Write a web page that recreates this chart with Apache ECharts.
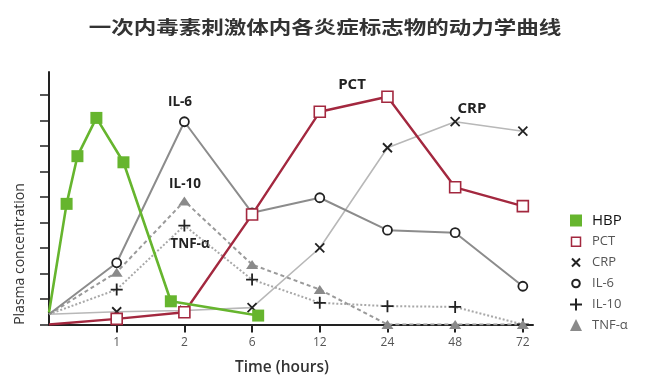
<!DOCTYPE html>
<html>
<head>
<meta charset="utf-8">
<script src="https://cdn.jsdelivr.net/npm/echarts@6/dist/echarts.min.js"></script>
<style>html,body{margin:0;padding:0;background:#fff;}#c{width:651px;height:385px;}</style>
</head>
<body>
<div id="c"></div>
<script>
// time categories (x positions are category indices)
const categories = ['0', '1', '2', '6', '12', '24', '48', '72'];
const tickLabels = ['', '1', '2', '6', '12', '24', '48', '72'];
// HBP sampled between categories (fractional category index)
const hbpTime = [0, 0.26, 0.42, 0.70, 1.10, 1.80, 3.09];
const hbpValues = [0.47, 4.73, 6.6, 8.1, 6.36, 0.91, 0.35];
const pctValues = [0, 0.22, 0.48, 4.31, 8.34, 8.93, 5.38, 4.64];
const crpValues = [0.4, 0.5, 0.55, 0.66, 3.0, 6.93, 7.95, 7.58];
const il6Values = [0.4, 2.42, 7.95, 4.38, 4.97, 3.70, 3.6, 1.50];
const il10Values = [0.4, 1.37, 3.88, 1.76, 0.85, 0.72, 0.69, 0];
const tnfValues = [0.4, 2.05, 4.84, 2.35, 1.37, 0, 0, 0];
const seriesNames = ['HBP', 'PCT', 'CRP', 'IL-6', 'IL-10', 'TNF-α'];

const font = '"Open Sans", "Noto Sans", sans-serif';
const xPath = 'path://M0,0L0,0M2,2L10,10M10,2L2,10M12,12L12,12';
const plusPath = 'path://M6,0L6,12M0,6L12,6';
const xSym = 'path://M0,0L10,10M10,0L0,10';

function pts(values, times) {
  return values.map((v, i) => {
    const t = times ? times[i] : i;
    return t === 0 ? { value: [t, v], symbol: 'none' } : { value: [t, v] };
  });
}

const chart = echarts.init(document.getElementById('c'));
chart.setOption({
  animation: false,
  backgroundColor: '#fff',
  grid: { left: 49, right: 118, top: 72, bottom: 60.5, containLabel: false },
  xAxis: {
    type: 'value', min: 0, max: 7.15, interval: 1,
    axisLine: { lineStyle: { color: '#222', width: 2 } },
    axisTick: { show: true, length: 8, lineStyle: { color: '#222', width: 2 }, customValues: [1, 2, 3, 4, 5, 6, 7] },
    axisLabel: { color: '#555', fontSize: 12, fontFamily: font, margin: 12,
      customValues: [1, 2, 3, 4, 5, 6, 7],
      formatter: v => (Number.isInteger(v) ? (tickLabels[v] || '') : '') },
    splitLine: { show: false }
  },
  yAxis: {
    type: 'value', min: 0, max: 9.9, interval: 1,
    axisLine: { show: true, lineStyle: { color: '#222', width: 2 } },
    axisTick: { show: true, length: 9, lineStyle: { color: '#222', width: 1.5 }, customValues: [0, 1, 2, 3, 4, 5, 6, 7, 8, 9] },
    axisLabel: { show: false },
    splitLine: { show: false }
  },
  legend: {
    orient: 'vertical', left: 564, top: 208, itemWidth: 12, itemHeight: 12, itemGap: 7,
    textStyle: { fontFamily: font, fontSize: 13, color: '#555', padding: [0, 0, 0, 5] },
    data: [
      { name: 'HBP', icon: 'rect', itemStyle: { color: '#66b52e', borderWidth: 0 }, textStyle: { fontSize: 15, color: '#111' } },
      { name: 'PCT', icon: 'path://M0,0L0,0M1.5,1.5L10.5,1.5L10.5,10.5L1.5,10.5Z M12,12L12,12', itemStyle: { color: '#fff', borderColor: '#a3283f', borderWidth: 1.5 } },
      { name: 'CRP', icon: xPath, itemStyle: { color: '#222', borderColor: '#222', borderWidth: 2 } },
      { name: 'IL-6', icon: 'path://M0,0L0,0M6,2.2A3.8,3.8,0,1,1,5.99,2.2Z M12,12L12,12', itemStyle: { color: '#fff', borderColor: '#222', borderWidth: 2 } },
      { name: 'IL-10', icon: plusPath, itemStyle: { color: '#222', borderColor: '#222', borderWidth: 2 } },
      { name: 'TNF-α', icon: 'triangle', itemStyle: { color: '#8a8a8a', borderWidth: 0 } }
    ]
  },
  graphic: [
    { type: 'text', x: 325, y: 27, scaleX: 1.25, style: { text: '一次内毒素刺激体内各炎症标志物的动力学曲线', textAlign: 'center', textVerticalAlign: 'middle', font: 'bold 18px "Noto Sans CJK SC", sans-serif', fill: '#333' } },
    { type: 'text', x: 20, y: 254, rotation: Math.PI / 2, style: { text: 'Plasma concentration', textAlign: 'center', textVerticalAlign: 'middle', font: '14px ' + font, fill: '#333' } },
    { type: 'text', x: 282, y: 368, style: { text: 'Time (hours)', textAlign: 'center', textVerticalAlign: 'middle', font: '600 15.5px ' + font, fill: '#333' } },
    { type: 'text', x: 180, y: 102, style: { text: 'IL-6', textAlign: 'center', textVerticalAlign: 'middle', font: 'bold 13.5px ' + font, fill: '#222' } },
    { type: 'text', x: 185, y: 184, style: { text: 'IL-10', textAlign: 'center', textVerticalAlign: 'middle', font: 'bold 13.5px ' + font, fill: '#222' } },
    { type: 'text', x: 190, y: 244, style: { text: 'TNF-α', textAlign: 'center', textVerticalAlign: 'middle', font: 'bold 13.5px ' + font, fill: '#222' } },
    { type: 'text', x: 352, y: 84.5, style: { text: 'PCT', textAlign: 'center', textVerticalAlign: 'middle', font: 'bold 15px ' + font, fill: '#222' } },
    { type: 'text', x: 472, y: 109, style: { text: 'CRP', textAlign: 'center', textVerticalAlign: 'middle', font: 'bold 15px ' + font, fill: '#222' } }
  ],
  series: [
    { name: 'CRP', type: 'line', z: 2, data: pts(crpValues), symbol: xSym, symbolSize: 9,
      lineStyle: { color: '#b8b8b8', width: 1.6 }, itemStyle: { color: '#222', borderColor: '#222', borderWidth: 1.8 } },
    { name: 'IL-10', type: 'line', z: 3, data: pts(il10Values), symbol: plusPath, symbolSize: 12,
      lineStyle: { color: '#a8a8a8', width: 2, type: [2, 2] }, itemStyle: { color: '#222', borderColor: '#222', borderWidth: 1.8 } },
    { name: 'TNF-α', type: 'line', z: 3, data: pts(tnfValues), symbol: 'triangle', symbolSize: [12, 9],
      lineStyle: { color: '#9a9a9a', width: 2, type: [4, 3] }, itemStyle: { color: '#8a8a8a' } },
    { name: 'IL-6', type: 'line', z: 4, data: pts(il6Values), symbol: 'circle', symbolSize: 9,
      lineStyle: { color: '#8c8c8c', width: 2 }, itemStyle: { color: '#fff', borderColor: '#222', borderWidth: 1.8 } },
    { name: 'PCT', type: 'line', z: 5, data: pts(pctValues), symbol: 'rect', symbolSize: 11,
      lineStyle: { color: '#a3283f', width: 2.4 }, itemStyle: { color: '#fff', borderColor: '#a3283f', borderWidth: 1.6 } },
    { name: 'HBP', type: 'line', z: 6, data: pts(hbpValues, hbpTime), symbol: 'rect', symbolSize: 12,
      lineStyle: { color: '#66b52e', width: 2.6 }, itemStyle: { color: '#66b52e' } }
  ]
});
</script>
</body>
</html>
